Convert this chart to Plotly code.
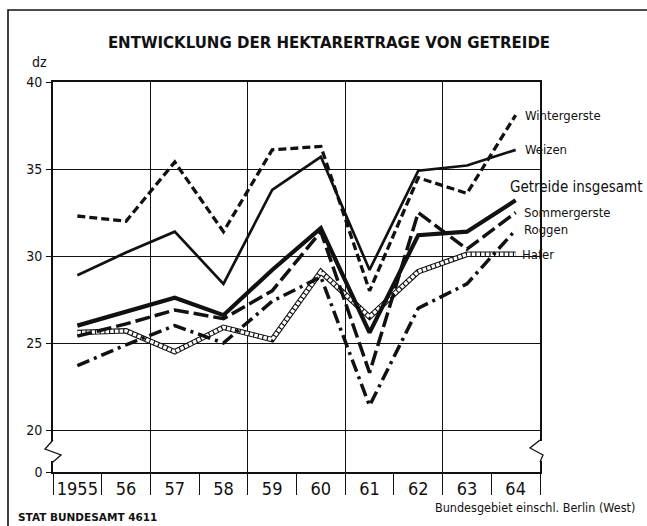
import plotly.graph_objects as go

# ---- data ----
years = [1955, 1956, 1957, 1958, 1959, 1960, 1961, 1962, 1963, 1964]
year_labels = ["1955", "56", "57", "58", "59", "60", "61", "62", "63", "64"]

wintergerste = [32.3, 32.0, 35.4, 31.4, 36.1, 36.3, 28.0, 34.5, 33.6, 38.1]
weizen = [28.9, 30.2, 31.4, 28.4, 33.8, 35.7, 29.2, 34.9, 35.2, 36.1]
getreide = [26.0, 26.8, 27.6, 26.6, 29.2, 31.6, 25.6, 31.2, 31.4, 33.2]
sommergerste = [25.4, 26.1, 26.9, 26.4, 28.0, 31.4, 23.3, 32.5, 30.4, 32.5]
roggen = [23.7, 24.9, 26.0, 25.0, 27.4, 28.8, 21.4, 27.0, 28.4, 31.5]
hafer = [25.6, 25.7, 24.5, 25.9, 25.2, 29.1, 26.5, 29.1, 30.1, 30.1]

y_tick_values = [20, 25, 30, 35, 40]
y_tick_labels = ["20", "25", "30", "35", "40"]
y_break_zero_label = "0"

# ---- styling ----
COND = "DejaVu Sans Condensed, Liberation Sans Narrow, DejaVu Sans, sans-serif"
BOLD = "DejaVu Sans, sans-serif"
INK = "#111111"

Y_TOP = 40
Y_BOTTOM = 17.59   # position of the broken-axis "0" line
plot_h = 390
px_per_unit = plot_h / (Y_TOP - Y_BOTTOM)

fig = go.Figure()

# Hafer: ladder-like line (black outline + white dashed core)
fig.add_trace(go.Scatter(x=years, y=hafer, mode="lines",
                         line=dict(color=INK, width=5.5), hoverinfo="skip", showlegend=False))
fig.add_trace(go.Scatter(x=years, y=hafer, mode="lines", name="Hafer",
                         line=dict(color="white", width=3.4, dash="3.5px,1.2px"), showlegend=False))

series = [
    ("Roggen", roggen, dict(color=INK, width=3.5, dash="13px,5px,3px,5px")),
    ("Sommergerste", sommergerste, dict(color=INK, width=3.5, dash="15px,5px")),
    ("Getreide insgesamt", getreide, dict(color=INK, width=4.2)),
    ("Weizen", weizen, dict(color=INK, width=2.7)),
    ("Wintergerste", wintergerste, dict(color=INK, width=3.3, dash="8px,4px")),
]
for name, vals, ln in series:
    fig.add_trace(go.Scatter(x=years, y=vals, mode="lines", name=name,
                             line=ln, showlegend=False))

# dummy trace for the overlay axis carrying the vertical grid lines
fig.add_trace(go.Scatter(x=[years[0]], y=[None], xaxis="x2", mode="lines",
                         showlegend=False, hoverinfo="skip"))

# ---- series labels at the right ends ----
label_specs = [
    ("Wintergerste", wintergerste, 13, 7, 0),
    ("Weizen", weizen, 13, 7, 0),
    ("Getreide insgesamt", getreide, 15, -8, 13),
    ("Sommergerste", sommergerste, 13, 6, 0),
    ("Roggen", roggen, 13, 6, 0),
    ("Hafer", hafer, 13, 4, 0),
]
annotations = []
for text, vals, size, xs, ys in label_specs:
    annotations.append(dict(x=years[-1], y=vals[-1], xref="x", yref="y", text=text,
                            showarrow=False, xanchor="left", yanchor="middle",
                            xshift=xs, yshift=ys,
                            font=dict(family=COND, size=size, color=INK)))

annotations += [
    dict(x=-0.047, y=1.051, xref="paper", yref="paper", text="dz", showarrow=False,
         xanchor="left", yanchor="middle", font=dict(family=COND, size=14, color=INK)),
    dict(x=-0.076, y=-0.115, xref="paper", yref="paper", text="STAT BUNDESAMT 4611",
         showarrow=False, xanchor="left", yanchor="middle",
         font=dict(family=BOLD, size=10.5, color=INK, weight="bold")),
    dict(x=1.199, y=-0.09, xref="paper", yref="paper",
         text="Bundesgebiet einschl. Berlin (West)", showarrow=False,
         xanchor="right", yanchor="middle", font=dict(family=COND, size=12.5, color=INK)),
]

# ---- axis break marks and outer frame ----
def yv(py):
    return Y_TOP - (py - 82) / px_per_unit

def xp(px):
    return (px - 53) / 487

shapes = [
    # white gaps in the side lines
    dict(type="rect", xref="paper", yref="y", x0=xp(50), x1=xp(56), y0=yv(461), y1=yv(441),
         fillcolor="white", line=dict(width=0), layer="above"),
    dict(type="rect", xref="paper", yref="y", x0=xp(537), x1=xp(543), y0=yv(461), y1=yv(441),
         fillcolor="white", line=dict(width=0), layer="above"),
    # zigzags
    dict(type="path", xref="paper", yref="y", layer="above",
         path=f"M {xp(53)},{yv(440)} L {xp(45)},{yv(449)} L {xp(61)},{yv(455)} L {xp(53)},{yv(462)}",
         line=dict(color=INK, width=1.3)),
    dict(type="path", xref="paper", yref="y", layer="above",
         path=f"M {xp(540)},{yv(440)} L {xp(530)},{yv(448)} L {xp(543)},{yv(455)} L {xp(540)},{yv(462)}",
         line=dict(color=INK, width=1.3)),
    # outer frame of the graphic
    dict(type="rect", xref="paper", yref="paper", x0=xp(8), x1=xp(700),
         y0=(472 - 560) / plot_h, y1=(472 - 10) / plot_h,
         line=dict(color=INK, width=1.6), fillcolor="rgba(0,0,0,0)", layer="above"),
]

fig.update_layout(
    width=647, height=526,
    margin=dict(l=53, r=107, t=82, b=54),
    paper_bgcolor="white", plot_bgcolor="white",
    title=dict(text="ENTWICKLUNG DER HEKTARERTRAGE VON GETREIDE",
               x=xp(329), xref="paper", xanchor="center",
               y=1 - 43 / 526, yref="container", yanchor="middle",
               font=dict(family=BOLD, size=15, color=INK, weight="bold")),
    annotations=annotations,
    shapes=shapes,
    xaxis=dict(
        range=[years[0] - 0.5, years[-1] + 0.5],
        tickmode="array", tickvals=years, ticktext=year_labels,
        ticks="", showgrid=False, zeroline=False,
        showline=True, linecolor=INK, linewidth=1.6, mirror=True,
        tickfont=dict(family=COND, size=18, color=INK),
        ticklabelstandoff=0,
        minor=dict(tickmode="array",
                   tickvals=[y + 0.5 for y in [years[0] - 1] + years],
                   ticks="outside", ticklen=21, tickwidth=1.2, tickcolor=INK,
                   showgrid=False),
    ),
    xaxis2=dict(
        overlaying="x", matches="x", anchor="y", side="bottom",
        tickmode="array", tickvals=[y + 0.5 for y in years[1:-1:2]],
        showticklabels=False, ticks="", showgrid=True, gridcolor=INK, gridwidth=1,
        showline=False, zeroline=False,
    ),
    yaxis=dict(
        range=[Y_BOTTOM, Y_TOP],
        tickmode="array", tickvals=[Y_BOTTOM] + y_tick_values,
        ticktext=[y_break_zero_label] + y_tick_labels,
        ticks="outside", ticklen=5, tickcolor=INK, tickwidth=1,
        showgrid=True, gridcolor=INK, gridwidth=1, zeroline=False,
        showline=True, linecolor=INK, linewidth=1.6, mirror=True,
        tickfont=dict(family=COND, size=14, color=INK),
        ticklabelstandoff=1,
    ),
)

fig.write_html("out.html", config={"displayModeBar": False},
               post_script="document.body.style.margin='0';document.body.style.overflow='hidden';")
